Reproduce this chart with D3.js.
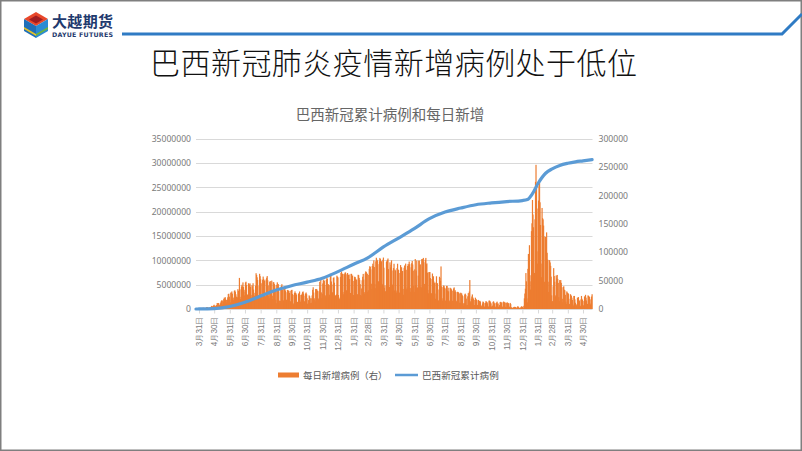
<!DOCTYPE html>
<html><head><meta charset="utf-8">
<script src="https://cdn.jsdelivr.net/npm/d3@7"></script>
<style>
html,body{margin:0;padding:0;background:#fff;}
svg{display:block;font-family:"Noto Sans CJK SC","Noto Sans",sans-serif;}
</style></head>
<body><svg id="c" width="802" height="451"></svg>
<script>
// ---------- DATA ----------
const slideTitle = "巴西新冠肺炎疫情新增病例处于低位";
const chartTitle = "巴西新冠累计病例和每日新增";
const legendLabels = ["每日新增病例（右）", "巴西新冠累计病例"];
const startDate = "2020-03-25"; // first daily bar, one value per day
const dailyNew = [
230,480,500,490,350,320,1140,
1120,1070,1150,1220,850,930,1660,
2210,1930,1780,1090,1260,1830,1470,
3060,3260,2920,2000,1990,1920,2340,
2680,3740,3500,5510,2950,4610,5380,
6280,7500,5020,4970,4730,6630,6940,
10500,9890,10220,10610,6630,6760,8620,
11380,13940,15300,14920,7940,13140,17410,
19950,18500,20800,16510,15810,11690,16320,
20600,26420,26930,21710,16410,11600,28940,
28630,30930,27080,18910,15650,20220,32090,
32910,30410,25980,21700,17110,20650,34920,
32190,22760,54770,34670,17460,21430,39440,
42720,39480,46860,38690,30480,24050,33850,
46710,48100,42220,26050,24830,20230,45300,
44570,42620,45050,39020,24830,20290,41860,
39920,45400,34180,28530,23530,20250,41000,
63000,59960,55890,51150,24580,23280,40820,
62000,57840,52380,45390,25800,16640,51600,
57150,53140,50230,49970,23010,22050,52160,
55150,58000,50640,41580,23100,19370,47780,
49300,45320,30360,50030,23420,17490,47130,
47160,44240,41350,33270,16160,10270,42660,
46930,30670,43770,31200,14780,10270,14280,
35820,40560,43720,33520,14780,15150,36650,
34930,39800,32440,29520,16390,13440,33530,
33280,32130,31910,28400,13990,13160,32050,
33410,33830,26310,24890,8460,10250,28250,
31040,28190,27450,25030,11350,12630,10220,
27240,27020,30880,24720,12340,14890,24820,
27020,29750,30910,26980,12460,13650,23570,
27260,29070,26010,18950,8790,10100,15730,
23980,22380,18860,10550,18950,10920,23970,
33920,38310,29070,18950,16210,13370,35290,
34130,35300,32440,32090,18620,16210,31100,
47900,37610,52090,29380,19390,26920,45000,
50430,51830,49440,42410,24040,20580,51090,
54380,53420,43900,43400,21820,25190,41980,
62000,60000,48480,43210,29490,25180,54660,
55830,46310,23430,23160,24420,25590,58720,
56770,55650,24600,15830,17340,20010,56650,
63430,66000,51150,62290,29790,25900,61800,
60900,64000,64390,61180,33040,23670,63430,
59120,59900,60900,52660,26820,28270,61960,
61810,57840,58940,49480,24590,24630,56870,
56300,53570,51480,51650,25510,25970,60300,
59600,54740,51330,43840,24760,23070,36270,
50590,56820,61800,51860,29730,26630,62710,
66300,65110,62730,61950,30050,33000,60030,
70670,75400,74230,69820,44550,35030,75680,
79880,75410,85660,73900,44120,36650,84010,
90300,86980,85660,79070,47770,49290,84000,
89990,88000,84240,84000,44330,42980,86800,
90640,72800,37020,41220,31360,28640,82870,
85000,86650,89000,70240,37020,38870,82190,
73170,77840,85770,67850,42980,30620,72120,
79720,32850,69380,67640,32570,28950,72140,
79730,69420,68850,63430,28930,24620,77360,
73380,73290,66590,67000,35420,25200,72720,
76690,71520,79990,69140,34770,37860,75850,
79410,76850,83580,78890,36890,30430,73450,
80690,84590,78470,67510,40900,30080,69840,
88000,42090,67690,85440,36920,38160,58860,
85250,85300,77510,78700,39120,37960,87800,
88000,74040,90000,82290,44180,37830,86830,
90000,78890,80290,64130,33700,27800,64900,
64830,65160,54560,52800,27780,26480,62500,
53730,57670,48290,45590,27120,18000,46570,
57660,45590,45160,34340,15270,13200,56840,
54750,49760,75000,40000,18990,14890,38530,
41410,40900,37580,36220,14910,13830,40720,
40720,32380,37430,31140,15140,13550,37460,
36320,35820,33930,32010,14400,14280,36220,
38040,30680,33080,30310,14470,12800,29650,
30340,29570,28790,27300,10970,10960,28750,
27430,27340,24290,22630,9930,6140,10500,
25560,27110,24860,18300,6650,7120,22400,
28000,22870,30790,51000,13600,10860,18260,
22060,25670,20320,18380,6620,7090,15880,
19950,17750,16560,15430,6910,7390,16020,
14310,13900,14400,12840,5190,4680,6540,
9730,13210,12160,10380,4380,3470,10930,
13930,12820,12200,10060,4690,4000,14700,
14750,13750,11840,9960,4450,3840,6000,
12560,13510,11370,9660,4460,3120,10670,
11350,12960,9000,9830,3910,3670,6950,
12030,12630,11550,11320,4460,3430,11970,
13220,12130,11360,11340,3930,3370,10840,
11750,10830,10460,9340,3020,4250,10700,
8580,3140,2320,1970,1480,2640,3200,
3840,3610,3660,3440,1310,1710,3510,
4980,3840,2960,1840,1020,1460,3200,
4230,4890,3520,2660,1500,5590,18760,
27270,35820,63290,48800,18770,11830,70760,
97000,87770,112400,59500,34240,48720,137100,
151000,192000,166500,144000,53000,63500,158000,
224000,254000,216000,177000,80000,101600,191000,
217000,222000,188000,148000,80000,56000,178000,
160000,158000,147000,128000,48000,42000,127000,
122000,135000,99000,87000,48000,30000,86000,
86000,82000,76000,57000,24000,12000,14000,
40000,72000,58000,48000,21000,24000,59000,
54000,60000,53000,46000,21000,14000,51000,
48000,51000,46000,38000,18000,12000,39000,
40000,34000,33000,25000,13000,9000,31000,
29000,28000,27000,18000,9000,7000,26000,
25000,23000,20000,16000,8000,6000,23000,
23000,17000,11000,8000,6000,8000,20000,
14000,21000,16000,14000,6000,5000,17000,
23000,18000,16000,14000,6000,7000,22000,
22000,25000,20000,15000,7000,9000,24000,
23000,22000,21000,17000,8000,10000,22000,
26000
];
const cumDates = ["2020-03-25","2020-03-31","2020-04-30","2020-05-31","2020-06-30","2020-07-31",
"2020-08-31","2020-09-30","2020-10-31","2020-11-30","2020-12-31","2021-01-31","2021-02-28",
"2021-03-31","2021-04-30","2021-05-31","2021-06-30","2021-07-31","2021-08-31","2021-09-30",
"2021-10-31","2021-11-30","2021-12-31","2022-01-10","2022-01-20","2022-01-31","2022-02-15",
"2022-02-28","2022-03-15","2022-03-31","2022-04-15","2022-04-30","2022-05-18"];
const cumCases = [2500,5700,87000,514000,1400000,2660000,
3910000,4780000,5520000,6330000,7680000,9200000,10520000,
12750000,14590000,16520000,18560000,19920000,20750000,21430000,
21800000,22080000,22290000,22500000,23700000,25800000,27900000,
28800000,29500000,29950000,30250000,30450000,30700000];
const tickDates = ["2020-03-31","2020-04-30","2020-05-31","2020-06-30","2020-07-31","2020-08-31",
"2020-09-30","2020-10-31","2020-11-30","2020-12-31","2021-01-31","2021-02-28","2021-03-31",
"2021-04-30","2021-05-31","2021-06-30","2021-07-31","2021-08-31","2021-09-30","2021-10-31",
"2021-11-30","2021-12-31","2022-01-31","2022-02-28","2022-03-31","2022-04-30"];
const tickLabels = ["3月31日","4月30日","5月31日","6月30日","7月31日","8月31日","9月30日","10月31日",
"11月30日","12月31日","1月31日","2月28日","3月31日","4月30日","5月31日","6月30日","7月31日",
"8月31日","9月30日","10月31日","11月30日","12月31日","1月31日","2月28日","3月31日","4月30日"];
const leftTicks = [0,5000000,10000000,15000000,20000000,25000000,30000000,35000000];
const rightTicks = [0,50000,100000,150000,200000,250000,300000];

// ---------- DRAW ----------
const parse = d3.utcParse("%Y-%m-%d");
const svg = d3.select("#c");
const W = 802, H = 451;
svg.append("rect").attr("x",0.75).attr("y",0.75).attr("width",W-1.5).attr("height",H-1.5)
  .attr("fill","#fff").attr("stroke","#7f7f7f").attr("stroke-width",1.5);

// header logo
const logo = svg.append("g");
logo.append("polygon").attr("points","36,12 48,19 36,26 24,19").attr("fill","#e8472b");
logo.append("polygon").attr("points","36,15.5 43,19.5 36,23.5 29,19.5").attr("fill","#a01d22");
logo.append("polygon").attr("points","24,19 36,26 36,38 24,31").attr("fill","#1f6fb8");
logo.append("polygon").attr("points","36,26 48,19 48,31 36,38").attr("fill","#2b8bd4");
logo.append("polygon").attr("points","24,27 36,34 36,36 24,29").attr("fill","#e5c22a");
logo.append("polygon").attr("points","36,34 48,27 48,29 36,36").attr("fill","#6cb33f");
svg.append("text").attr("x",52).attr("y",27).attr("font-size",15).attr("font-weight",700)
  .attr("fill","#1f3a6e").attr("textLength",61).text("大越期货");
svg.append("text").attr("x",52).attr("y",36.5).attr("font-size",6.3).attr("font-weight",700)
  .attr("fill","#1f3a6e").attr("textLength",61).attr("font-family","DejaVu Sans, sans-serif").text("DAYUE FUTURES");
svg.append("polyline").attr("points","122,34 782,34 802,14").attr("fill","none")
  .attr("stroke","#2f7bc4").attr("stroke-width",3);

svg.append("text").attr("x",150).attr("y",74).attr("font-size",30).attr("font-weight",300).attr("fill","#111")
  .attr("textLength",487).text(slideTitle);
svg.append("text").attr("x",390).attr("y",120).attr("text-anchor","middle").attr("font-size",14.5)
  .attr("fill","#666").text(chartTitle);

// scales
const x = d3.scaleUtc().domain([parse("2020-03-31"), parse("2022-04-30")]).range([199, 583]);
const yL = d3.scaleLinear().domain([0, 35000000]).range([309, 138.7]);
const yR = d3.scaleLinear().domain([0, 300000]).range([309, 138.7]);
const x0 = 196, x1 = 592.5;

// gridlines
svg.append("g").selectAll("line").data(leftTicks.slice(1)).join("line")
  .attr("x1",x0).attr("x2",x1).attr("y1",d=>Math.round(yL(d))+0.5).attr("y2",d=>Math.round(yL(d))+0.5)
  .attr("stroke","#d9d9d9").attr("stroke-width",1);

// left axis
const gL = svg.append("g").attr("transform",`translate(${x0-4},0)`)
  .call(d3.axisLeft(yL).tickValues(leftTicks).tickSize(0).tickPadding(1).tickFormat(d3.format("d")));
gL.select(".domain").remove();
gL.selectAll("text").attr("font-size",8.6).attr("fill","#7a7a7a").attr("font-family","Noto Sans, sans-serif");
// right axis
const gR = svg.append("g").attr("transform",`translate(${x1+4},0)`)
  .call(d3.axisRight(yR).tickValues(rightTicks).tickSize(0).tickPadding(2).tickFormat(d3.format("d")));
gR.select(".domain").remove();
gR.selectAll("text").attr("font-size",8.6).attr("fill","#7a7a7a").attr("font-family","Noto Sans, sans-serif");

// bars
const start = parse(startDate);
const bars = dailyNew.map((v,i)=>({d:d3.utcDay.offset(start,i), v}));
svg.append("g").selectAll("rect").data(bars).join("rect")
  .attr("x",d=>x(d.d)-0.6).attr("width",1.2)
  .attr("y",d=>yR(d.v)).attr("height",d=>yR(0)-yR(d.v))
  .attr("fill","#ed7d31");

// x axis line + ticks
svg.append("line").attr("x1",x0).attr("x2",x1).attr("y1",309.5).attr("y2",309.5)
  .attr("stroke","#d9d9d9").attr("stroke-width",1);
const gX = svg.append("g").attr("transform","translate(0,309.5)")
  .call(d3.axisBottom(x).tickValues(tickDates.map(parse)).tickSize(4).tickFormat((d,i)=>tickLabels[i]));
gX.select(".domain").remove();
gX.selectAll(".tick line").attr("stroke","#d9d9d9");
gX.selectAll("text").attr("font-size",8.2).attr("fill","#7a7a7a")
  .attr("transform","rotate(-90)").attr("text-anchor","end").attr("dy","0.34em").attr("x",-7).attr("y",0);

// cumulative line
const line = d3.line().x(d=>x(d[0])).y(d=>yL(d[1])).curve(d3.curveMonotoneX);
svg.append("path").datum(cumDates.map((d,i)=>[parse(d),cumCases[i]]))
  .attr("d",line).attr("fill","none").attr("stroke","#5b9bd5").attr("stroke-width",3.2)
  .attr("stroke-linecap","round").attr("stroke-linejoin","round");

// legend
const lg = svg.append("g");
lg.append("rect").attr("x",278).attr("y",372.5).attr("width",21).attr("height",5).attr("fill","#ed7d31");
lg.append("text").attr("x",303).attr("y",379).attr("font-size",9.4).attr("fill","#595959").text(legendLabels[0]);
lg.append("line").attr("x1",395).attr("x2",418).attr("y1",375).attr("y2",375).attr("stroke","#5b9bd5").attr("stroke-width",2.5);
lg.append("text").attr("x",422).attr("y",379).attr("font-size",9.6).attr("fill","#595959").text(legendLabels[1]);
</script></body></html>
